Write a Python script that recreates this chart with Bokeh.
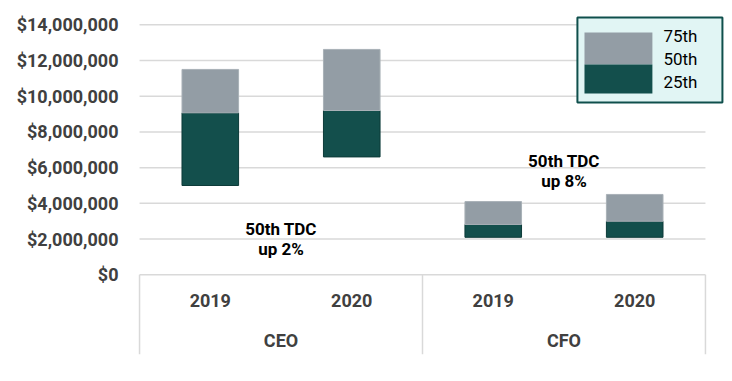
from bokeh.plotting import figure
from bokeh.models import FactorRange, ColumnDataSource, FixedTicker, NumeralTickFormatter, Range1d, BoxAnnotation, Label
from bokeh.core.properties import value
from bokeh.embed import file_html
from bokeh.resources import INLINE

# ---- data ----
roles = ["CEO", "CFO"]
years = ["2019", "2020"]
p25 = [5.0e6, 6.6e6, 2.1e6, 2.1e6]
p50 = [9.07e6, 9.2e6, 2.82e6, 3.0e6]
p75 = [11.5e6, 12.62e6, 4.1e6, 4.5e6]
notes = ["50th TDC\nup 2%", "50th TDC\nup 8%"]
note_y = [2.0e6, 5.8e6]
legend_labels = ["75th", "50th", "25th"]
y_ticks = [0, 2e6, 4e6, 6e6, 8e6, 10e6, 12e6, 14e6]

GREEN = "#134f4c"
GREY = "#939da5"
GRID = "#d9d9d9"
TXT = "#404040"
FONT = "Roboto"

factors = [(r, y) for r in roles for y in years]
src = ColumnDataSource(dict(x=factors, p25=p25, p50=p50, p75=p75))

y_start = -4.463e6
y_end = 15.36e6

p = figure(width=732, height=381,
           x_range=FactorRange(*factors, group_padding=0, range_padding=0.17, range_padding_units="absolute"),
           y_range=Range1d(y_start, y_end), output_backend="svg", toolbar_location=None,
           min_border_left=115, min_border_right=3, min_border_top=0, min_border_bottom=27)
p.outline_line_color = None
p.xaxis.visible = False
p.xgrid.visible = False
p.ygrid.visible = False

ya = p.yaxis[0]
ya.ticker = FixedTicker(ticks=y_ticks)
ya.formatter = NumeralTickFormatter(format="$0,0")
ya.axis_line_color = None
ya.major_tick_line_color = None
ya.minor_tick_line_color = None
ya.major_tick_in = 0
ya.major_tick_out = 0
ya.major_label_standoff = -3
ya.major_label_text_font = FONT
ya.major_label_text_font_style = "bold"
ya.major_label_text_font_size = "18px"
ya.major_label_text_color = TXT

n = len(years)
bounds = [i * n for i in range(len(roles) + 1)]

# horizontal grid lines, limited to the category span
p.segment(x0=[bounds[0]] * len(y_ticks), x1=[bounds[-1]] * len(y_ticks), y0=y_ticks, y1=y_ticks,
          line_color=GRID, line_width=1.5)

# bars
p.vbar(x="x", width=0.4, bottom="p25", top="p50", source=src, fill_color=GREEN, line_color="#0d3b39", line_width=1)
p.vbar(x="x", width=0.4, bottom="p50", top="p75", source=src, fill_color=GREY, line_color="#a9b1b7", line_width=1)

# category box
p.segment(x0=bounds, x1=bounds, y0=[0] * len(bounds), y1=[y_start] * len(bounds), line_color=GRID, line_width=1.5)

# category labels
p.text(x=factors, y=[-1.44e6] * len(factors), text=[f[1] for f in factors], text_font=value(FONT),
       text_font_style="bold", text_font_size="18px", text_color=TXT, text_align="center", text_baseline="middle")
p.text(x=roles, y=[-3.68e6] * len(roles), text=roles, text_font=value(FONT),
       text_font_style="bold", text_font_size="18px", text_color=TXT, text_align="center", text_baseline="middle")

# notes
p.text(x=roles, y=note_y, text=notes, text_font=value(FONT), text_font_style="bold", text_font_size="17px",
       text_color="black", text_align="center", text_baseline="middle", text_line_height=1.0)

# legend (manual, to reproduce the split swatch)
p.add_layout(BoxAnnotation(left=3.095, right=4.12, top=14.41e6, bottom=9.65e6, fill_color="#e1f5f4", fill_alpha=1,
                           line_color="#0f4f4c", line_alpha=1, line_width=2))
p.add_layout(BoxAnnotation(left=3.145, right=3.625, top=13.57e6, bottom=11.77e6, fill_color=GREY, fill_alpha=1,
                           line_color=None))
p.add_layout(BoxAnnotation(left=3.145, right=3.625, top=11.77e6, bottom=10.15e6, fill_color=GREEN, fill_alpha=1,
                           line_color=None))
for lab, yy in zip(legend_labels, [13.35e6, 12.11e6, 10.82e6]):
    p.add_layout(Label(x=3.703, y=yy, text=lab, text_baseline="middle", text_font=FONT,
                       text_font_size="17px", text_color="black"))

open("out.html", "w").write(file_html(p, INLINE))
